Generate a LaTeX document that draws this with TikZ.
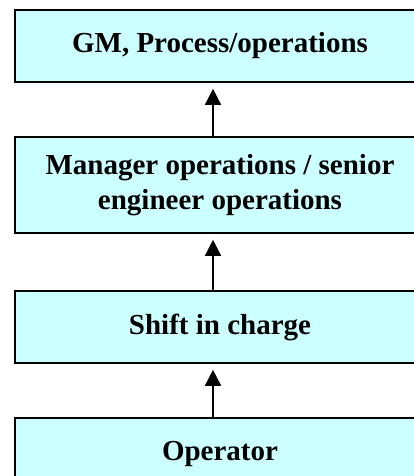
\documentclass[tikz,border=0pt]{standalone}
\usepackage{fontspec}
\setmainfont{Liberation Serif}
\usetikzlibrary{arrows.meta}
\definecolor{boxcyan}{RGB}{204,255,255}
\begin{document}
\begin{tikzpicture}[x=1pt,y=-1pt,
  rank/.style={draw,line width=1.6pt,fill=boxcyan,minimum width=410pt,inner sep=0pt,
    align=center,font=\fontsize{29}{35}\selectfont\bfseries},
  up/.style={line width=1.5pt,-{Triangle[length=16pt,width=16pt]},shorten >=6pt}]
\useasboundingbox (0,0) rectangle (414,476);
\clip (0,0) rectangle (414,476);
\node [rank,minimum height=72pt] (gm) at (220,46) {GM, Process/operations};
\node [rank,minimum height=96pt] (mgr) at (220,185) {Manager operations / senior\\engineer operations};
\node [rank,minimum height=72pt] (sic) at (220,327) {Shift in charge};
\node [rank,minimum height=72pt] (op) at (220,454) {Operator};
\coordinate (ax) at (213,0);
\draw [up] (ax |- mgr.north) -- (ax |- gm.south);
\draw [up] (ax |- sic.north) -- (ax |- mgr.south);
\draw [up] (ax |- op.north) -- (ax |- sic.south);
\end{tikzpicture}
\end{document}
